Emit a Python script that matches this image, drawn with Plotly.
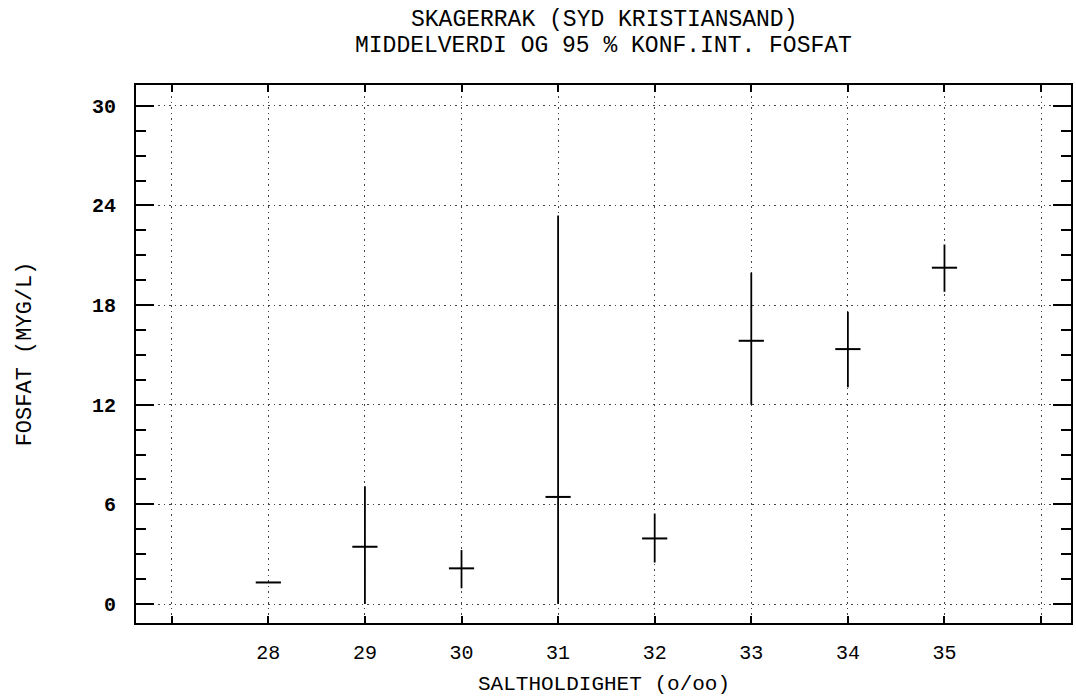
import plotly.graph_objects as go

# ---- data ----
salinity = [28, 29, 30, 31, 32, 33, 34, 35]
mean_fosfat = [1.3, 3.45, 2.15, 6.45, 3.95, 15.85, 15.35, 20.25]
ci_low = [1.3, 0.0, 0.95, 0.0, 2.5, 12.0, 13.05, 18.8]
ci_high = [1.3, 7.1, 3.25, 23.4, 5.45, 19.95, 17.6, 21.65]

x_tickvals = [27, 28, 29, 30, 31, 32, 33, 34, 35, 36]
x_ticktext = ["", "28", "29", "30", "31", "32", "33", "34", "35", ""]
y_tickvals = [0, 6, 12, 18, 24, 30]
y_ticktext = ["0", "6", "12", "18", "24", "30"]

title_line1 = "SKAGERRAK (SYD KRISTIANSAND)"
title_line2 = "MIDDELVERDI OG 95 % KONF.INT. FOSFAT"
x_title = "SALTHOLDIGHET (o/oo)"
y_title = "FOSFAT (MYG/L)"

FONT = "Liberation Mono, DejaVu Sans Mono, monospace"

err_plus = [h - m for h, m in zip(ci_high, mean_fosfat)]
err_minus = [m - l for m, l in zip(mean_fosfat, ci_low)]

fig = go.Figure()
fig.add_trace(go.Scatter(
    x=salinity, y=mean_fosfat, mode="markers",
    marker=dict(symbol="line-ew", size=18, color="black",
                line=dict(width=2, color="black")),
    error_y=dict(type="data", symmetric=False, array=err_plus,
                 arrayminus=err_minus, width=0, thickness=1.8,
                 color="black"),
    showlegend=False, hoverinfo="x+y",
))

grid_dash = "1.5px,4px"

PLOT_TOP = 85
PLOT_H = 538

fig.update_layout(
    width=1076, height=697, autosize=False,
    margin=dict(l=136, r=3, t=85, b=74),
    paper_bgcolor="white", plot_bgcolor="white",
    font=dict(family=FONT, color="black"),
    xaxis=dict(
        range=[26.63, 36.31], tickvals=x_tickvals, ticktext=x_ticktext,
        showgrid=True, gridcolor="#444", gridwidth=1, griddash=grid_dash,
        zeroline=False, showline=True, linecolor="black", linewidth=2,
        mirror="ticks", ticks="inside", ticklen=7, tickwidth=1.5,
        tickcolor="black", tickfont=dict(size=20, family=FONT),
        ticklabelstandoff=10,
    ),
    yaxis=dict(
        range=[-1.14, 31.25], tickvals=y_tickvals, ticktext=y_ticktext,
        showgrid=True, gridcolor="#444", gridwidth=1, griddash=grid_dash,
        zeroline=False, showline=True, linecolor="black", linewidth=2,
        mirror="ticks", ticks="inside", ticklen=18, tickwidth=2,
        tickcolor="black", tickfont=dict(size=20, family=FONT, weight="bold"),
        ticklabelstandoff=14,
        minor=dict(dtick=1.5, tick0=0, ticks="inside", ticklen=10,
                   tickwidth=1.5, tickcolor="black", showgrid=False),
    ),
    annotations=[
        dict(text=title_line1, xref="paper", yref="paper",
             x=0.5, y=(PLOT_TOP + PLOT_H - 20) / PLOT_H, xanchor="center",
             yanchor="middle", showarrow=False,
             font=dict(size=23, family=FONT)),
        dict(text=title_line2, xref="paper", yref="paper",
             x=0.5, y=(PLOT_TOP + PLOT_H - 46) / PLOT_H, xanchor="center",
             yanchor="middle", showarrow=False,
             font=dict(size=23, family=FONT)),
        dict(text=x_title, xref="paper", yref="paper",
             x=0.5, y=(PLOT_TOP + PLOT_H - 684) / PLOT_H, xanchor="center",
             yanchor="middle", showarrow=False,
             font=dict(size=21, family=FONT)),
        dict(text=y_title, xref="paper", yref="paper",
             x=(25 - 136) / 938, y=0.5, xanchor="center", yanchor="middle",
             textangle=-90, showarrow=False, font=dict(size=22, family=FONT)),
    ],
)

fig.write_html(
    "out.html",
    config={"displayModeBar": False},
    post_script="document.body.style.margin='0';"
                "document.body.style.overflow='hidden';",
)
